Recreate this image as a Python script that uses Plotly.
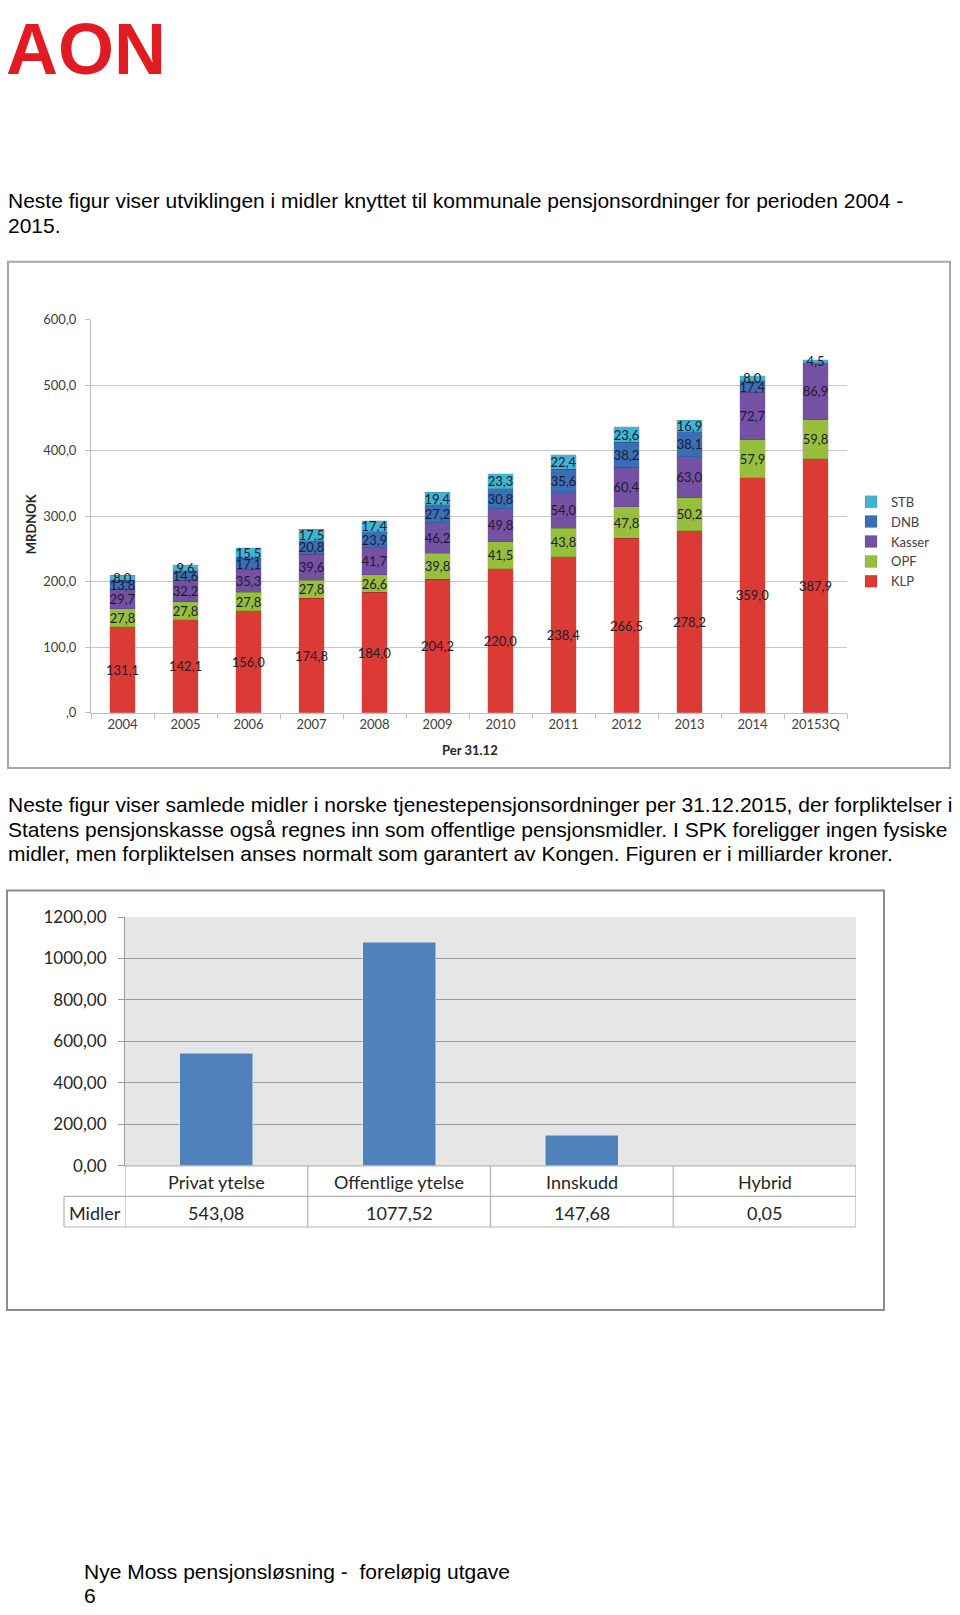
import plotly.graph_objects as go

W, H = 960, 1615

# ---------------- Data: chart 1 ----------------
years = ["2004", "2005", "2006", "2007", "2008", "2009", "2010", "2011", "2012", "2013", "2014", "20153Q"]
klp = [131.1, 142.1, 156.0, 174.8, 184.0, 204.2, 220.0, 238.4, 266.5, 278.2, 359.0, 387.9]
opf = [27.8, 27.8, 27.8, 27.8, 26.6, 39.8, 41.5, 43.8, 47.8, 50.2, 57.9, 59.8]
kasser = [29.7, 32.2, 35.3, 39.6, 41.7, 46.2, 49.8, 54.0, 60.4, 63.0, 72.7, 86.9]
dnb = [13.8, 14.6, 17.1, 20.8, 23.9, 27.2, 30.8, 35.6, 38.2, 38.1, 17.4, 0.0]
stb = [8.0, 9.6, 15.5, 17.5, 17.4, 19.4, 23.3, 22.4, 23.6, 16.9, 8.0, 4.5]
y1_ticks = [0, 100, 200, 300, 400, 500, 600]

# ---------------- Data: chart 2 ----------------
types = ["Privat ytelse", "Offentlige ytelse", "Innskudd", "Hybrid"]
midler = [543.08, 1077.52, 147.68, 0.05]
y2_ticks = [0, 200, 400, 600, 800, 1000, 1200]


def px_x(p):
    return p / W


def px_y(p):
    return 1 - p / H


def nor(v, d=1):
    s = f"{v:.{d}f}".replace(".", ",")
    if s.startswith("0,") and d == 1:
        s = s[1:]
    return s


def lab(vals):
    return [nor(v) if v > 0 else "" for v in vals]


LABEL_FONT = "Lato, Open Sans, sans-serif"
TEXT_FONT = "Liberation Sans, Arial, sans-serif"

fig = go.Figure()

series = [
    ("KLP", klp, "#db3b34"),
    ("OPF", opf, "#98bf3b"),
    ("Kasser", kasser, "#7551a4"),
    ("DNB", dnb, "#3a6fb7"),
    ("STB", stb, "#40b4d2"),
]
for name, vals, col in series:
    fig.add_trace(go.Bar(
        x=years, y=vals, name=name, text=lab(vals),
        textposition="inside", insidetextanchor="middle", textangle=0,
        constraintext="none",
        textfont=dict(family=LABEL_FONT, size=13, color="#1c1c30"),
        marker=dict(color=col, line=dict(color="rgba(0,0,0,0.18)", width=0.6)),
        xaxis="x", yaxis="y", hoverinfo="skip",
    ))

fig.add_trace(go.Bar(
    x=types, y=midler, name="Midler", showlegend=False,
    marker=dict(color="#4f81bd"), xaxis="x2", yaxis="y2", hoverinfo="skip",
))

annotations = []
shapes = []

# Logo
annotations.append(dict(
    text="<b>AON</b>", x=px_x(4), y=px_y(38), xref="paper", yref="paper",
    xanchor="left", yanchor="middle", showarrow=False,
    font=dict(family="Liberation Sans Narrow, Liberation Sans, Arial", size=72, color="#e11b22"),
))

# Paragraph texts
para_lines = [
    ("Neste figur viser utviklingen i midler knyttet til kommunale pensjonsordninger for perioden 2004 -", 192),
    ("2015.", 217),
    ("Neste figur viser samlede midler i norske tjenestepensjonsordninger per 31.12.2015, der forpliktelser i", 804),
    ("Statens pensjonskasse også regnes inn som offentlige pensjonsmidler. I SPK foreligger ingen fysiske", 829),
    ("midler, men forpliktelsen anses normalt som garantert av Kongen. Figuren er i milliarder kroner.", 854),
    ("Nye Moss pensjonsløsning -  foreløpig utgave", 1581),
    ("6", 1605),
]
for t, py in para_lines:
    x0 = 82 if py > 1500 else 6
    annotations.append(dict(
        text=t, x=px_x(x0), y=px_y(py), xref="paper", yref="paper",
        xanchor="left", yanchor="middle", showarrow=False,
        font=dict(family=TEXT_FONT, size=21, color="#000000"),
    ))

# Chart frames
shapes.append(dict(type="rect", xref="paper", yref="paper",
                   x0=px_x(8), x1=px_x(950), y0=px_y(767), y1=px_y(254),
                   line=dict(color="#a6a6a6", width=2), fillcolor="rgba(0,0,0,0)"))
shapes.append(dict(type="rect", xref="paper", yref="paper",
                   x0=px_x(7), x1=px_x(884), y0=px_y(1316), y1=px_y(891),
                   line=dict(color="#8c8c8c", width=2), fillcolor="rgba(0,0,0,0)"))

# Chart 2 gray plot background
shapes.append(dict(type="rect", xref="x2 domain", yref="y2 domain", x0=0, x1=1, y0=0, y1=1,
                   line=dict(width=0), fillcolor="#e6e6e6", layer="below"))

# Chart 1 axis titles
annotations.append(dict(
    text="<b>MRDNOK</b>", x=px_x(31), y=px_y(520), xref="paper", yref="paper",
    textangle=-90, showarrow=False, xanchor="center", yanchor="middle",
    font=dict(family=LABEL_FONT, size=13, color="#262626"),
))
annotations.append(dict(
    text="<b>Per 31.12</b>", x=px_x(470), y=px_y(749), xref="paper", yref="paper",
    showarrow=False, xanchor="center", yanchor="middle",
    font=dict(family=LABEL_FONT, size=13, color="#262626"),
))

# Chart 2 data table
row1_top, row1_bot, row2_bot = 1170, 1201, 1232
tbl_col = "#b3b3b3"
n = len(types)
for i in range(n + 1):
    shapes.append(dict(type="line", xref="x2", yref="paper", x0=i - 0.5, x1=i - 0.5,
                       y0=px_y(row1_top), y1=px_y(row2_bot), line=dict(color=tbl_col, width=1.2)))
for py in (row1_bot, row2_bot):
    shapes.append(dict(type="line", xref="paper", yref="paper", x0=px_x(64), x1=px_x(856),
                       y0=px_y(py), y1=px_y(py), line=dict(color=tbl_col, width=1.2)))
shapes.append(dict(type="line", xref="paper", yref="paper", x0=px_x(64), x1=px_x(64),
                   y0=px_y(row1_bot), y1=px_y(row2_bot), line=dict(color=tbl_col, width=1.2)))
shapes.append(dict(type="line", xref="x2", yref="paper", x0=-0.5, x1=n - 0.5,
                   y0=px_y(row1_top), y1=px_y(row1_top), line=dict(color=tbl_col, width=1.2)))

for cat, v in zip(types, midler):
    annotations.append(dict(text=cat, x=cat, xref="x2", y=px_y((row1_top + row1_bot) / 2 + 1), yref="paper",
                            showarrow=False, xanchor="center", yanchor="middle",
                            font=dict(family=LABEL_FONT, size=18, color="#262626")))
    annotations.append(dict(text=nor(v, 2), x=cat, xref="x2", y=px_y((row1_bot + row2_bot) / 2 + 1), yref="paper",
                            showarrow=False, xanchor="center", yanchor="middle",
                            font=dict(family=LABEL_FONT, size=18, color="#262626")))
annotations.append(dict(text="Midler", x=px_x(67), xref="paper", y=px_y((row1_bot + row2_bot) / 2 + 1), yref="paper",
                        showarrow=False, xanchor="left", yanchor="middle",
                        font=dict(family=LABEL_FONT, size=18, color="#262626")))

fig.update_layout(
    width=W, height=H,
    margin=dict(l=0, r=0, t=0, b=0),
    paper_bgcolor="white", plot_bgcolor="white",
    barmode="stack", bargap=0.6,
    showlegend=True,
    legend=dict(x=px_x(851), y=px_y(482), xanchor="left", yanchor="top",
                traceorder="reversed", bgcolor="rgba(0,0,0,0)",
                font=dict(family=LABEL_FONT, size=13, color="#404040"),
                itemwidth=30, tracegroupgap=0),
    xaxis=dict(domain=[px_x(91), px_x(847)], anchor="y", type="category",
               showline=True, linecolor="#bfbfbf", linewidth=1,
               ticks="outside", tickson="boundaries", ticklen=5, tickcolor="#bfbfbf",
               tickfont=dict(family=LABEL_FONT, size=13, color="#404040"),
               showgrid=False, fixedrange=True),
    yaxis=dict(domain=[px_y(711), px_y(313)], anchor="x", range=[0, 600],
               tickvals=y1_ticks, ticktext=[nor(v) for v in y1_ticks],
               showline=True, linecolor="#bfbfbf", linewidth=1,
               ticks="outside", ticklen=5, tickcolor="#bfbfbf",
               ticklabelstandoff=6,
               showgrid=True, gridcolor="#c8c8c8", gridwidth=1,
               tickfont=dict(family=LABEL_FONT, size=13, color="#404040"),
               zeroline=False, fixedrange=True),
    xaxis2=dict(domain=[px_x(125), px_x(856)], anchor="y2", type="category",
                range=[-0.5, len(types) - 0.5], showticklabels=False,
                showline=False, showgrid=False, ticks="", fixedrange=True),
    yaxis2=dict(domain=[px_y(1170), px_y(918)], anchor="x2", range=[0, 1200],
                tickvals=y2_ticks, ticktext=[nor(v, 2) for v in y2_ticks],
                showline=True, linecolor="#9a9a9a", linewidth=1.2,
                ticks="outside", ticklen=6, tickcolor="#9a9a9a",
                ticklabelstandoff=8,
                showgrid=True, gridcolor="#9a9a9a", gridwidth=1.2,
                tickfont=dict(family=LABEL_FONT, size=17, color="#262626"),
                zeroline=False, fixedrange=True),
    annotations=annotations,
    shapes=shapes,
)

fig.write_html("out.html")
